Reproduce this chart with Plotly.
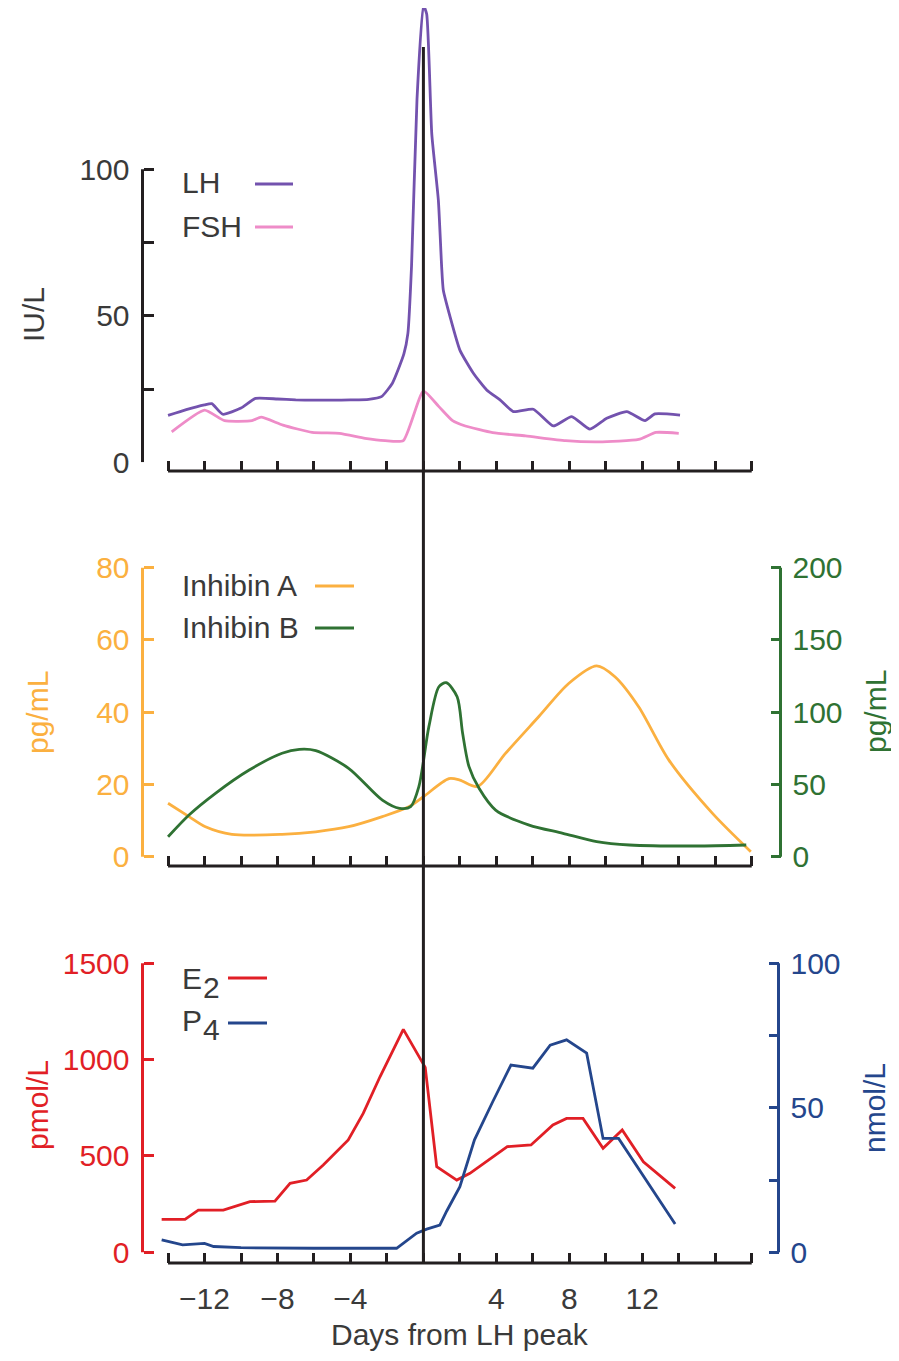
import plotly.graph_objects as go

# ---------------- data ----------------
lh_day = [-14, -13, -12, -11.6, -11, -10, -9.2, -8, -7, -6, -5, -4, -3, -2.3, -1.7,
          -1.07, -0.85, -0.65, -0.35, 0, 0.18, 0.46, 0.82, 1.0, 1.09, 1.46, 2.0, 2.74,
          3.47, 4.2, 4.93, 6.03, 7.12, 8.13, 9.13, 10.05, 11.15, 12.15, 12.7, 14.07]
lh_val = [16, 18, 19.6, 20, 16.4, 18.5, 21.8, 21.6, 21.3, 21.2, 21.2, 21.3, 21.5, 22.4, 27,
          37, 44, 67, 124, 156, 153, 112, 89.5, 66.8, 58.8, 49.7, 38.3, 30.4,
          24.7, 21.3, 17.3, 18.1, 12.4, 15.6, 11.3, 15, 17.3, 14.2, 16.5, 16.1]

fsh_day = [-13.8, -12, -10.9, -9.4, -8.9, -7.7, -6.1, -4.6, -3.2, -2.1, -1.1, 0, 0.85,
           1.6, 2.3, 3.8, 5.6, 7.8, 9.6, 11.8, 12.75, 14]
fsh_val = [10.4, 17.8, 14.2, 14.2, 15.4, 12.7, 10.2, 9.9, 8.2, 7.4, 7.4, 24.3, 19,
           14.2, 12.4, 10.1, 9, 7.4, 7, 7.8, 10.2, 9.9]

inha_day = [-14, -12.85, -11.95, -10.5, -7.75, -5.9, -4.1, -2.25, -0.8, 0, 1.4, 2.0,
            2.96, 4.5, 6.33, 7.98, 9.5, 10.5, 11.8, 13.45, 15.85, 17.95]
inha_val = [14.8, 11.1, 8.3, 6.2, 6.2, 6.9, 8.3, 11.1, 13.8, 16.6, 21.6, 21.2,
            19.4, 28.6, 38.8, 48, 52.8, 49.8, 41.5, 26.8, 12, 1.4]

inhb_day = [-14, -12.85, -11.4, -9.55, -7.75, -6.8, -5.9, -4.1, -2.25, -1.3, -0.7, -0.25,
            0.3, 0.85, 1.25, 1.85, 2.15, 2.5, 3.05, 3.96, 5.8, 7.65, 9.5, 11.3, 14.95, 17.7]
inhb_val = [13.8, 28.9, 43.9, 60, 71.6, 74.3, 73.4, 61.2, 39.2, 33.5, 34.6, 48.4,
            90, 117.6, 120.4, 110.7, 85.4, 62.3, 47.3, 32.3, 21.9, 16.2, 10.4, 8.1, 7.4, 8.1]

e2_day = [-14.35, -13.07, -12.34, -10.97, -9.51, -8.14, -7.31, -6.4, -5.49, -4.12, -3.3,
          -2.38, -1.1, 0.1, 0.73, 1.83, 2.55, 4.6, 5.9, 7.1, 7.85, 8.75, 9.85, 10.9, 12.06, 13.8]
e2_val = [171, 171, 219, 219, 263, 266, 358, 375, 453, 583, 721,
          911, 1157, 960, 444, 375, 410, 548, 557, 661, 695, 695, 540, 635, 470, 332]

p4_day = [-14.35, -13.2, -12.0, -11.5, -10, -8, -6, -4, -2, -1.47, -0.37, 0.18, 0.9,
          1.28, 2.0, 2.8, 3.8, 4.8, 6.0, 6.95, 7.85, 8.95, 9.85, 10.7, 13.8]
p4_val = [4.3, 2.6, 3.1, 2.0, 1.6, 1.4, 1.4, 1.4, 1.3, 1.4, 6.6, 8, 9.4,
          14.3, 22.7, 38.9, 52.1, 64.8, 63.7, 71.7, 73.5, 68.9, 39.4, 39.4, 9.8]

x_ticks = list(range(-14, 19, 2))
x_labels = {-12: "\u221212", -8: "\u22128", -4: "\u22124", 4: "4", 8: "8", 12: "12"}

# ---------------- styling / geometry ----------------
PAGE_W, PAGE_H = 899, 1361
OFF = 8                                   # browser body margin
W, H = PAGE_W - 2 * OFF, PAGE_H - 2 * OFF
FONT = "Liberation Sans, Arial, Helvetica, sans-serif"
BLACK = "#231F20"
TXT = "#3a3a3a"
C_LH, C_FSH = "#7352AE", "#EE8CC8"
C_IA, C_IB = "#FBB040", "#2F7233"
C_E2, C_P4 = "#E11F26", "#24468C"


def px(p):
    return (p - OFF) / W


def py(p):
    return 1 - (p - OFF) / H


X0PX, XSCALE = 423.4, 18.24           # page pixel of day 0, pixels per day
XR = [-14.45, 18.15]
xdom = [px(X0PX + XSCALE * XR[0]), px(X0PX + XSCALE * XR[1])]

fig = go.Figure()

line_w = 2.8
fig.add_trace(go.Scatter(x=lh_day, y=lh_val, mode="lines", xaxis="x", yaxis="y",
                         line=dict(color=C_LH, width=line_w, shape="spline", smoothing=0.5)))
fig.add_trace(go.Scatter(x=fsh_day, y=fsh_val, mode="lines", xaxis="x", yaxis="y",
                         line=dict(color=C_FSH, width=line_w, shape="spline", smoothing=0.5)))
fig.add_trace(go.Scatter(x=inha_day, y=inha_val, mode="lines", xaxis="x2", yaxis="y2",
                         line=dict(color=C_IA, width=line_w, shape="spline", smoothing=0.8)))
fig.add_trace(go.Scatter(x=inhb_day, y=inhb_val, mode="lines", xaxis="x2", yaxis="y3",
                         line=dict(color=C_IB, width=line_w, shape="spline", smoothing=0.8)))
fig.add_trace(go.Scatter(x=e2_day, y=e2_val, mode="lines", xaxis="x3", yaxis="y4",
                         line=dict(color=C_E2, width=line_w)))
fig.add_trace(go.Scatter(x=p4_day, y=p4_val, mode="lines", xaxis="x3", yaxis="y5",
                         line=dict(color=C_P4, width=line_w)))

top_zero, top_scale = 462.3, 2.93
top_range = [0, (top_zero - OFF) / top_scale]
mid_zero, mid_scale = 856.7, 289 / 80
mid_range = [-2, 81]
bot_zero, bot_scale = 1252.3, 289 / 1500
bot_range = [-30, 1530]


def dom(zero_px, scale, rng):
    bottom = zero_px - rng[0] * scale
    top = zero_px - rng[1] * scale
    return [max(0, py(bottom)), min(1, py(top))]


def xax(pos_px, labels):
    d = dict(domain=xdom, range=XR, anchor="free", position=py(pos_px),
             showgrid=False, zeroline=False, showline=False, automargin=False,
             tickmode="array", tickvals=x_ticks, ticks="inside", ticklen=10,
             tickwidth=3, tickcolor=BLACK, fixedrange=True)
    if labels:
        d.update(ticktext=[x_labels.get(v, "") for v in x_ticks], showticklabels=True,
                 tickfont=dict(family=FONT, size=30, color=TXT), ticklabelstandoff=15)
    else:
        d.update(showticklabels=False)
    return d


def yax(domain, rng, pos_px, vals, texts, color, lblcolor, side="left", overlay=None):
    d = dict(range=rng, anchor="free", position=px(pos_px), side=side,
             showgrid=False, zeroline=False, showline=False, automargin=False,
             tickmode="array", tickvals=vals, ticktext=texts,
             ticks="inside", ticklen=10, tickwidth=3, tickcolor=color,
             tickfont=dict(family=FONT, size=30, color=lblcolor),
             ticklabelstandoff=13 if side == "left" else 11, fixedrange=True)
    if overlay:
        d["overlaying"] = overlay
    else:
        d["domain"] = domain
    return d


top_dom = dom(top_zero, top_scale, top_range)
mid_dom = dom(mid_zero, mid_scale, mid_range)
bot_dom = dom(bot_zero, bot_scale, bot_range)

YL, YR_MID, YR_BOT = 142.5, 780.5, 778.5

fig.update_layout(
    template="none",
    width=W, height=H, margin=dict(l=0, r=0, t=0, b=0, pad=0), autosize=False,
    paper_bgcolor="white", plot_bgcolor="white", showlegend=False,
    xaxis=xax(471, False),
    xaxis2=xax(866, False),
    xaxis3=xax(1263, True),
    yaxis=yax(top_dom, top_range, YL, [0, 25, 50, 75, 100], ["0", "", "50", "", "100"],
              BLACK, TXT),
    yaxis2=yax(mid_dom, mid_range, YL, [0, 20, 40, 60, 80], ["0", "20", "40", "60", "80"],
               C_IA, C_IA),
    yaxis3=yax(None, [mid_range[0] * 2.5, mid_range[1] * 2.5], YR_MID, [0, 50, 100, 150, 200],
               ["0", "50", "100", "150", "200"], C_IB, C_IB, side="right", overlay="y2"),
    yaxis4=yax(bot_dom, bot_range, YL, [0, 500, 1000, 1500], ["0", "500", "1000", "1500"],
               C_E2, C_E2),
    yaxis5=yax(None, [-2, 102], YR_BOT, [0, 25, 50, 75, 100], ["0", "", "50", "", "100"],
               C_P4, C_P4, side="right", overlay="y4"),
)

shapes = []
for yref, xpx, y1, col in [("y", YL, 100, BLACK), ("y2", YL, 80, C_IA), ("y3", YR_MID, 200, C_IB),
                           ("y4", YL, 1500, C_E2), ("y5", YR_BOT, 100, C_P4)]:
    shapes.append(dict(type="line", xref="paper", yref=yref, x0=px(xpx), x1=px(xpx),
                       y0=0, y1=y1, line=dict(color=col, width=3)))
for xref, ypx in [("x", 471), ("x2", 866), ("x3", 1263)]:
    shapes.append(dict(type="line", xref=xref, yref="paper", x0=-14, x1=18,
                       y0=py(ypx), y1=py(ypx), line=dict(color=BLACK, width=3)))
shapes.append(dict(type="line", xref="x3", yref="paper", x0=0, x1=0, y0=py(1263), y1=py(47),
                   line=dict(color=BLACK, width=3), layer="above"))
for x0, x1, ypx, col in [(255, 293, 184, C_LH), (255, 293, 227, C_FSH),
                         (315, 354, 586, C_IA), (315, 354, 628, C_IB),
                         (228, 267, 978, C_E2), (228, 267, 1023, C_P4)]:
    shapes.append(dict(type="line", xref="paper", yref="paper", x0=px(x0), x1=px(x1),
                       y0=py(ypx), y1=py(ypx), line=dict(color=col, width=2.8)))
fig.update_layout(shapes=shapes)

ann = []


def text(t, xpx, ypx, color=TXT, size=30, xanchor="left", angle=0, yanchor="middle"):
    ann.append(dict(text=t, x=px(xpx), y=py(ypx), xref="paper", yref="paper",
                    xanchor=xanchor, yanchor=yanchor, showarrow=False, textangle=angle,
                    font=dict(family=FONT, size=size, color=color)))


text("LH", 180, 183)
text("FSH", 180, 226)
text("Inhibin A", 180, 585)
text("Inhibin B", 180, 628)
text("E", 180, 978)
text("2", 201, 987)
text("P", 180, 1020)
text("4", 201, 1029)
text("IU/L", 33, 315, TXT, 30, "center", -90)
text("pg/mL", 37, 712, C_IA, 30, "center", -90)
text("pmol/L", 37, 1105, C_E2, 30, "center", -90)
text("pg/mL", 875, 712, C_IB, 30, "center", -90)
text("nmol/L", 874, 1108, C_P4, 30, "center", -90)
text("Days from LH peak", 460, 1353, TXT, 30, "center", yanchor="bottom")
fig.update_layout(annotations=ann)

fig.write_html("out.html")
